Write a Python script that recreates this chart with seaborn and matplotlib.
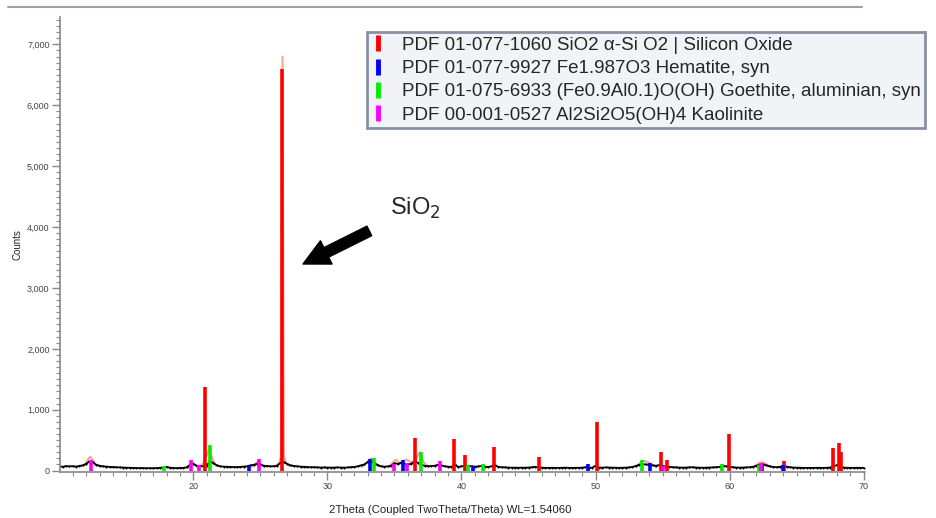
import numpy as np
import pandas as pd
import seaborn as sns
import matplotlib.pyplot as plt
from matplotlib.lines import Line2D
from matplotlib.ticker import MultipleLocator, FuncFormatter

# measured pattern, 0.25 deg steps from 10 to 70
two_theta = np.arange(10.0, 70.01, 0.25)
counts = [
    70, 62, 75, 68,   72, 66, 78, 85,   110, 150, 135, 95,   80, 70, 66, 60,
    58, 55, 52, 50,   48, 45, 44, 42,   40, 42, 38, 40,   38, 41, 45, 50,
    60, 48, 42, 40,   42, 45, 52, 95,   110, 80, 75, 70,   80, 160, 120, 85,
    70, 65, 62, 60,   58, 56, 60, 65,   70, 85, 95, 110,  100, 80, 75, 70,
    72, 80, 130, 140, 110, 85, 75, 70,  65, 62, 58, 55,   55, 52, 50, 52,
    50, 48, 50, 52,   50, 48, 52, 55,   60, 70, 85, 100,  140, 150, 120, 90,
    70, 65, 68, 80,   120, 110, 130, 115, 100, 110, 150, 130, 95, 80, 70, 75,
    80, 95, 85, 70,   65, 60, 100, 60,  70, 75, 80, 70,   65, 68, 75, 65,
    60, 70, 90, 60,   55, 52, 50, 48,   48, 46, 48, 47,   50, 55, 60, 52,
    48, 45, 44, 46,   45, 44, 46, 48,   45, 44, 46, 45,   48, 55, 50, 46,
    80, 50, 48, 52,   50, 48, 46, 45,   46, 48, 52, 60,   75, 95, 105, 100,
    95, 85, 80, 90,   75, 65, 60, 55,   52, 50, 48, 50,   52, 55, 50, 48,
    46, 48, 50, 52,   55, 60, 75, 70,   60, 55, 50, 48,   50, 52, 55, 62,
    80, 95, 100, 85,  70, 60, 55, 60,   75, 65, 55, 50,   48, 46, 45, 44,
    45, 44, 46, 45,   44, 46, 50, 70,   90, 70, 50, 46,   45, 44, 46, 45,
    44,
]

# profile fit around the humps (NaN splits the pieces)
fit_x = [11.6, 11.9, 12.1, 12.3, 12.5, 12.7, 13.0, np.nan,
         19.5, 19.75, 19.9, 20.1, 20.3, np.nan,
         20.5, 20.75, 20.85, 21.0, 21.2, 21.4, 21.7, np.nan,
         24.3, 24.6, 24.8, 25.0, 25.3, np.nan,
         26.1, 26.4, 26.55, 26.65, 26.75, 26.9, 27.2, np.nan,
         32.6, 32.9, 33.1, 33.3, 33.5, 33.8, np.nan,
         34.6, 34.9, 35.1, 35.4, 35.7, 35.9, 36.2, 36.5, 36.9, 37.2, 37.5, np.nan,
         53.0, 53.3, 53.6, 53.9, 54.2, 54.5, np.nan,
         61.8, 62.1, 62.4, 62.7, 63.0]
fit_y = [70, 100, 170, 230, 170, 100, 70, np.nan,
         50, 90, 150, 90, 60, np.nan,
         70, 120, 200, 250, 380, 200, 80, np.nan,
         60, 100, 150, 100, 60, np.nan,
         70, 120, 250, 6800, 250, 120, 70, np.nan,
         60, 120, 180, 200, 140, 70, np.nan,
         60, 140, 180, 120, 160, 180, 140, 150, 300, 130, 70, np.nan,
         60, 120, 160, 140, 100, 60, np.nan,
         60, 110, 140, 110, 60]

# reference sticks
quartz_pos = [20.85, 26.64, 36.54, 39.46, 40.29, 42.45, 45.79, 50.14, 54.87,
              55.33, 59.96, 64.03, 67.74, 68.14, 68.31]
quartz_h = [1380, 6600, 530, 515, 255, 380, 215, 800, 300, 175, 600, 160, 375, 460, 305]
hematite_pos = [24.15, 33.15, 35.61, 40.85, 49.45, 54.05, 62.45, 64.0]
hematite_h = [80, 190, 175, 80, 100, 120, 110, 90]
goethite_pos = [17.8, 21.22, 33.45, 36.95, 40.45, 41.6, 53.5, 59.4, 62.2]
goethite_h = [70, 420, 210, 310, 90, 110, 180, 100, 90]
kaolinite_pos = [12.35, 19.85, 20.4, 24.9, 34.95, 35.95, 38.4, 55.0, 62.35]
kaolinite_h = [175, 170, 90, 185, 110, 120, 160, 80, 120]

phases = [
    ("PDF 01-077-1060 SiO2 \u03b1-Si O2 | Silicon Oxide", "#ff0000", quartz_pos, quartz_h),
    ("PDF 01-077-9927 Fe1.987O3 Hematite, syn", "#0000ff", hematite_pos, hematite_h),
    ("PDF 01-075-6933 (Fe0.9Al0.1)O(OH) Goethite, aluminian, syn", "#00ee00", goethite_pos, goethite_h),
    ("PDF 00-001-0527 Al2Si2O5(OH)4 Kaolinite", "#ff00ff", kaolinite_pos, kaolinite_h),
]

sns.set_style("ticks")
plt.rcParams['font.family'] = ['Liberation Sans', 'DejaVu Sans']

fig = plt.figure(figsize=(9.37, 5.18), dpi=100)
ax = fig.add_axes([60 / 937, 1 - 471.5 / 518, 805 / 937, 454.5 / 518])

ax.plot(fit_x, fit_y, color="#f5a595", lw=1.5, zorder=1)
df = pd.DataFrame({"two_theta": two_theta, "counts": counts})
sns.lineplot(data=df, x="two_theta", y="counts", color="black", lw=1.3,
             marker=".", markersize=3, markeredgewidth=0, ax=ax, zorder=2)

for label, col, pos, h in phases:
    ax.vlines(pos, 0, h, colors=col, lw=2.6, zorder=3)

ax.set_xlim(10.05, 70.1)
ax.set_ylim(-15, 7450)
ax.xaxis.set_major_locator(MultipleLocator(10))
ax.xaxis.set_minor_locator(MultipleLocator(1))
ax.yaxis.set_major_locator(MultipleLocator(1000))
ax.yaxis.set_minor_locator(MultipleLocator(100))
ax.yaxis.set_major_formatter(FuncFormatter(lambda v, p: f"{int(v):,}"))
ax.xaxis.set_major_formatter(FuncFormatter(lambda v, p: "" if v < 15 else f"{int(v)}"))

for s in ["top", "right"]:
    ax.spines[s].set_visible(False)
for s in ["left", "bottom"]:
    ax.spines[s].set_color("#888888")
    ax.spines[s].set_linewidth(1.2)
ax.tick_params(which="major", length=6, width=1, color="#888888", labelsize=6.5,
               labelcolor="#444444", pad=1.5)
ax.tick_params(which="minor", length=3, width=0.8, color="#888888")

ax.set_xlabel("")
fig.text(450 / 937, 1 - 510 / 518, "2Theta (Coupled TwoTheta/Theta) WL=1.54060",
         fontsize=8.2, color="#222222", ha="center", va="center")
ax.set_ylabel("Counts", fontsize=7, color="#222222", labelpad=3)

handles = [Line2D([], [], color=c, marker="|", linestyle="None", markersize=11,
                  markeredgewidth=3.5) for _, c, _, _ in phases]
leg = fig.legend(handles, [p[0] for p in phases], loc="upper left",
                 bbox_to_anchor=(367 / 937, 1 - 32 / 518), fontsize=13.5,
                 frameon=True, fancybox=False, handlelength=0.7,
                 handletextpad=0.9, labelspacing=0.33, borderpad=0.25,
                 borderaxespad=0)
leg.get_frame().set_facecolor("#f1f3f6")
leg.get_frame().set_edgecolor("#8890a4")
leg.get_frame().set_linewidth(2)
leg.get_frame().set_alpha(1)

# annotation for the main quartz peak
ax.annotate("SiO$_2$", xy=(303 / 937, 1 - 264 / 518), xycoords="figure fraction",
            xytext=(390 / 937, 1 - 208 / 518), textcoords="figure fraction",
            fontsize=17, va="center", ha="left",
            arrowprops=dict(arrowstyle="simple,head_length=1.1,head_width=1.1,tail_width=0.45",
                            color="black", shrinkA=14, shrinkB=0))

fig.add_artist(Line2D([8 / 937, 862 / 937], [1 - 7 / 518] * 2, color="#a0a0a0", lw=1.5))

fig.savefig("out.png", dpi=100)
